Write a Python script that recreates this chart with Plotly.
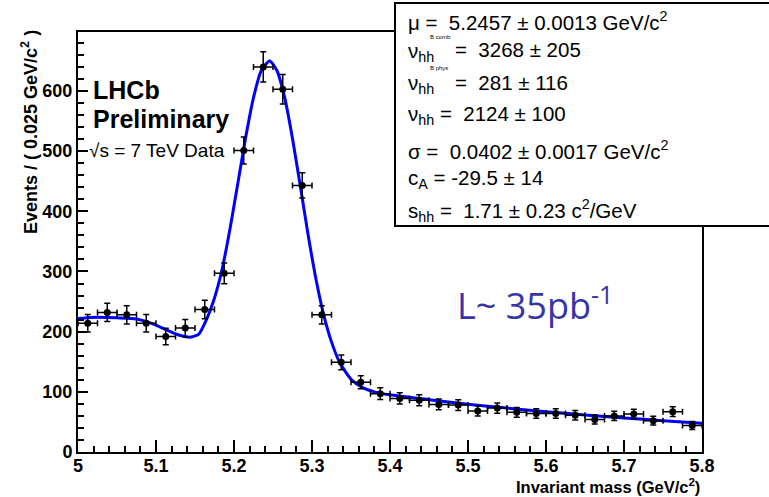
import numpy as np
import plotly.graph_objects as go

# Binned candidates (bin width 0.025 GeV/c^2)
mass_bins = [5.0125, 5.0375, 5.0625, 5.0875, 5.1125, 5.1375, 5.1625, 5.1875,
             5.2125, 5.2375, 5.2625, 5.2875, 5.3125, 5.3375, 5.3625, 5.3875,
             5.4125, 5.4375, 5.4625, 5.4875, 5.5125, 5.5375, 5.5625, 5.5875,
             5.6125, 5.6375, 5.6625, 5.6875, 5.7125, 5.7375, 5.7625, 5.7875]
events = [214, 232, 228, 214, 192, 206, 237, 297,
          501, 640, 603, 443, 228, 149, 116, 97,
          89, 86, 79, 78, 68, 73, 66, 64,
          64, 61, 54, 60, 63, 52, 67, 44]
half_bin = 0.0125

# Fitted model curve
fit_mass = [5.000, 5.025, 5.050, 5.075, 5.100, 5.115, 5.130, 5.145, 5.155,
            5.165, 5.175, 5.185, 5.195, 5.205, 5.215, 5.225, 5.235, 5.2457,
            5.255, 5.265, 5.275, 5.285, 5.295, 5.305, 5.315, 5.325, 5.335,
            5.350, 5.365, 5.380, 5.400, 5.450, 5.500, 5.550, 5.600, 5.650,
            5.700, 5.750, 5.800]
fit_events = [222, 224, 223, 221, 211, 202, 194, 191, 196,
              221, 256, 305, 372, 447, 523, 589, 634, 650,
              634, 589, 521, 442, 361, 288, 228, 183, 150,
              121, 107, 100, 95, 87, 79.5, 73, 67, 61.5,
              56.5, 52, 47.6]

W, H = 769, 497
ML, MR, MT, MB = 78, 67, 32, 45
PW, PH = W - ML - MR, H - MT - MB


def px(x):
    return (x - ML) / PW


def py(y):
    return (H - MB - y) / PH


fig = go.Figure()

fig.add_trace(go.Scatter(
    x=fit_mass, y=fit_events, mode="lines",
    line=dict(color="#0000ff", width=3, shape="spline", smoothing=0.6),
    hoverinfo="skip", showlegend=False,
))

fig.add_trace(go.Scatter(
    x=mass_bins, y=events, mode="markers",
    marker=dict(color="black", size=7, symbol="circle"),
    error_y=dict(type="data", array=np.sqrt(events), color="black",
                 thickness=1.5, width=3),
    error_x=dict(type="constant", value=half_bin, color="black",
                 thickness=1.5, width=3),
    showlegend=False,
))

axis_font = dict(family="Liberation Sans, Arial, sans-serif", size=18,
                 color="black", weight="bold")

fig.update_xaxes(
    range=[5.0, 5.8], dtick=0.1, tick0=5.0, ticks="inside", ticklen=12,
    tickwidth=1.5, tickcolor="black", tickfont=axis_font,
    ticklabelstandoff=-4,
    minor=dict(dtick=0.02, ticks="inside", ticklen=6, tickwidth=1.5,
               tickcolor="black"),
    showline=True, linecolor="black", linewidth=2, mirror=True,
    showgrid=False, zeroline=False,
)
fig.update_yaxes(
    range=[0, 698], dtick=100, tick0=0, ticks="inside", ticklen=10,
    tickwidth=1.5, tickcolor="black", tickfont=axis_font,
    minor=dict(dtick=20, ticks="inside", ticklen=6, tickwidth=1.5,
               tickcolor="black"),
    showline=True, linecolor="black", linewidth=2, mirror=True,
    showgrid=False, zeroline=False,
)

annotations = []

annotations.append(dict(
    text="Events / ( 0.025 GeV/c<sup>2</sup> )", textangle=-90,
    xref="paper", yref="paper", x=px(29), y=py(28),
    xanchor="center", yanchor="top", showarrow=False,
    font=dict(family="Liberation Sans, Arial, sans-serif", size=18,
              color="black", weight="bold"),
))
annotations.append(dict(
    text="Invariant mass (GeV/c<sup>2</sup>)",
    xref="paper", yref="paper", x=px(702), y=py(486),
    xanchor="right", yanchor="middle", showarrow=False,
    font=dict(family="Liberation Sans, Arial, sans-serif", size=16.5,
              color="black", weight="bold"),
))

lhcb_font = dict(family="Liberation Sans, Arial, sans-serif", size=25,
                 color="black", weight="bold")
annotations.append(dict(text="LHCb", xref="paper", yref="paper",
                        x=px(91), y=py(90), xanchor="left", yanchor="middle",
                        showarrow=False, font=lhcb_font))
annotations.append(dict(text="Preliminary", xref="paper", yref="paper",
                        x=px(91), y=py(119), xanchor="left", yanchor="middle",
                        showarrow=False, font=lhcb_font))
annotations.append(dict(text="\u221as = 7 TeV Data", xref="paper", yref="paper",
                        x=px(87), y=py(150), xanchor="left", yanchor="middle",
                        showarrow=False,
                        font=dict(family="Liberation Sans, Arial, sans-serif",
                                  size=19, color="black")))

annotations.append(dict(text="L~ 35pb<sup>-1</sup>", xref="paper", yref="paper",
                        x=px(455), y=py(304), xanchor="left", yanchor="middle",
                        showarrow=False,
                        font=dict(family="Open Sans, sans-serif", size=36,
                                  color="#3535a8")))

# Fit parameter box
stat_font = dict(family="Liberation Sans, Arial, sans-serif", size=20.5,
                 color="black")
tiny_font = dict(family="Liberation Sans, Arial, sans-serif", size=6,
                 color="black")


def stat(text, x, y, font=stat_font):
    annotations.append(dict(text=text, xref="paper", yref="paper",
                            x=px(x), y=py(y), xanchor="left",
                            yanchor="middle", showarrow=False, font=font))


stat("\u03bc =  5.2457 \u00b1 0.0013 GeV/c<sup>2</sup>", 406, 21)
stat("\u03bd<sub>hh</sub>", 406, 52)
stat("B comb", 428, 37, tiny_font)
stat("=  3268 \u00b1 205", 453, 50)
stat("\u03bd<sub>hh</sub>", 406, 84)
stat("B phys", 428, 68, tiny_font)
stat("=  281 \u00b1 116", 453, 82)
stat("\u03bd<sub>hh</sub> =  2124 \u00b1 100", 406, 115)
stat("\u03c3 =  0.0402 \u00b1 0.0017 GeV/c<sup>2</sup>", 406, 150)
stat("c<sub>A</sub> = -29.5 \u00b1 14", 406, 179)
stat("s<sub>hh</sub> =  1.71 \u00b1 0.23 c<sup>2</sup>/GeV", 406, 210)

shapes = [dict(type="rect", xref="paper", yref="paper",
               x0=px(395), x1=px(775), y0=py(226), y1=py(3),
               fillcolor="white", line=dict(color="black", width=2),
               layer="above")]

fig.update_layout(
    width=W, height=H,
    margin=dict(l=ML, r=MR, t=MT, b=MB),
    paper_bgcolor="white", plot_bgcolor="white",
    annotations=annotations, shapes=shapes,
    showlegend=False,
)

fig.write_html("out.html")
